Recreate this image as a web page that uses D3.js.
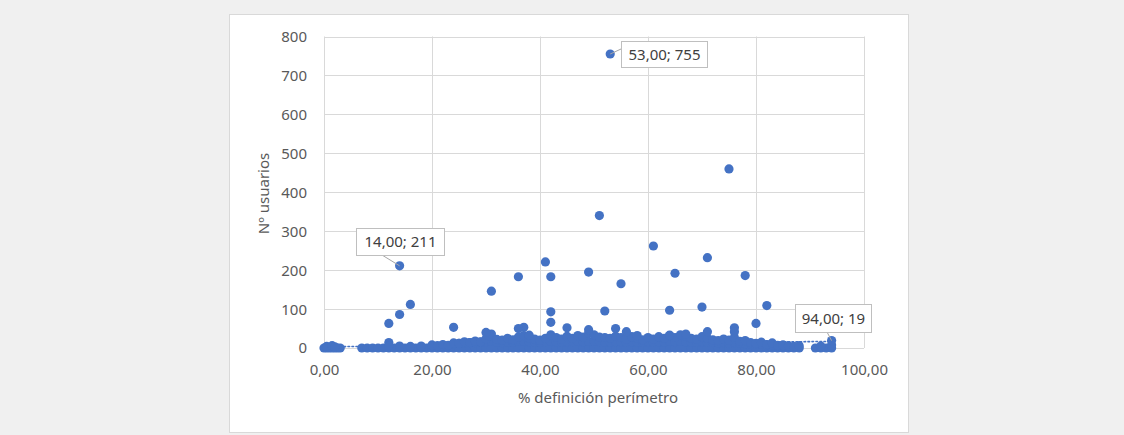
<!DOCTYPE html>
<html><head><meta charset="utf-8">
<script src="https://cdn.jsdelivr.net/npm/d3@7"></script>
<style>
html,body{margin:0;padding:0;background:#f0f0f0;}
svg{display:block;font-family:"Noto Sans",sans-serif;}
</style></head>
<body>
<svg id="c" width="1124" height="435"></svg>
<script>
// ---- data ----
const xTicks = [0, 20, 40, 60, 80, 100];
const yTicks = [0, 100, 200, 300, 400, 500, 600, 700, 800];
const xTitle = "% definición perímetro";
const yTitle = "Nº usuarios";

// isolated points
const outX = [53,75,51,61,71,41,14,49,65,36,42,78,55,31,16,82,70,52,64,42,14,12,42,80,24,45,37,36,54,49,76,76,30,56,71,67,58,64,38,94];
const outY = [755,460,340,262,232,221,211,195,192,183,183,186,165,146,112,109,105,95,97,93,86,63,66,63,53,52,53,50,50,47,52,42,40,42,42,36,32,33,33,19];

// dense band near zero
const baseX = [0,0.5,1,1.5,2,2.5,3,7,8,9,10,11,12,13,14,15,16,17,18,19,20,21,22,23,24,25,26,27,28,29,30,31,32,33,34,35,36,37,38,39,40,41,42,43,44,45,46,47,48,49,50,51,52,53,54,55,56,57,58,59,60,61,62,63,64,65,66,67,68,69,70,71,72,73,74,75,76,77,78,79,80,81,82,83,84,85,86,87,88,91,92,93,94];
const midX = [24,25,26,27,28,29,30,31,32,33,34,35,36,37,38,39,40,41,42,43,44,45,46,47,48,49,50,51,52,53,54,55,56,57,58,59,60,61,62,63,64,65,66,67,68,69,70,71,72,73,74,75,76,77,78,79,80,81,82,83,84];
const midY = [10,12,13,14,14,15,16,17,15,14,15,15,17,17,16,15,15,16,17,16,15,16,16,17,16,17,17,16,15,15,16,16,15,16,15,15,16,15,16,15,17,16,17,16,15,15,16,15,14,13,14,12,14,12,11,10,9,9,8,8,6];
const topX = [0.5,1.5,2,12,12,14,16,18,20,21,22,23,24,25,26,27,28,29,30,30.5,31,32,33,34,35,36,37,38,39,40,41,42,43,44,45,46,47,48,49,50,51,52,53,54,55,56,57,58,59,60,61,62,63,64,65,66,67,68,69,70,71,72,73,74,75,76,77,78,79,80,81,82,83,84,85,86,87,88,92,94];
const topY = [4,6,3,14,6,5,4,5,8,6,9,7,13,12,16,14,18,16,24,30,36,22,20,25,21,28,32,25,23,20,25,34,27,23,30,25,32,28,38,34,28,27,25,30,27,23,29,25,21,27,23,29,25,32,27,34,30,25,23,29,25,21,19,23,20,27,17,19,14,12,15,9,13,7,8,6,4,6,5,8];

// linear trendline end points
const trendX = [0, 94];
const trendY = [3, 17];

// data labels
const labelX = [53, 14, 94];
const labelY = [755, 211, 19];
const labelText = ["53,00; 755", "14,00; 211", "94,00; 19"];

// ---- drawing ----
const svg = d3.select("#c");
const plot = {left: 324, right: 864, top: 36.5, bottom: 348};
const x = d3.scaleLinear().domain([0, 100]).range([plot.left, plot.right]);
const y = d3.scaleLinear().domain([0, 800]).range([plot.bottom, plot.top]);
const blue = "#4472c4";
const txt = "#595959";

// chart area
svg.append("rect").attr("x", 229.5).attr("y", 14.5).attr("width", 679).attr("height", 418)
  .attr("fill", "#fff").attr("stroke", "#d9d9d9");

// gridlines
const g = svg.append("g");
g.selectAll("line.h").data(yTicks).join("line")
  .attr("x1", plot.left).attr("x2", plot.right)
  .attr("y1", d => Math.round(y(d)) + 0.5).attr("y2", d => Math.round(y(d)) + 0.5)
  .attr("stroke", "#d9d9d9").attr("stroke-width", 1);
g.selectAll("line.v").data(xTicks).join("line")
  .attr("y1", plot.top).attr("y2", plot.bottom)
  .attr("x1", d => Math.round(x(d)) + 0.5).attr("x2", d => Math.round(x(d)) + 0.5)
  .attr("stroke", "#d9d9d9").attr("stroke-width", 1);

// axes (tick labels only)
const xAxis = d3.axisBottom(x).tickValues(xTicks).tickSize(0).tickPadding(0)
  .tickFormat(d => d3.format(".2f")(d).replace(".", ","));
const xa = svg.append("g").attr("transform", `translate(0,${plot.bottom})`).call(xAxis);
xa.select(".domain").remove();
xa.selectAll("text").attr("font-size", 15).attr("fill", txt).attr("dy", null).attr("y", 27).attr("font-family", "Noto Sans");

const yAxis = d3.axisLeft(y).tickValues(yTicks).tickSize(0).tickPadding(0);
const ya = svg.append("g").attr("transform", `translate(${plot.left - 17},0)`).call(yAxis);
ya.select(".domain").remove();
ya.selectAll("text").attr("font-size", 15).attr("fill", txt).attr("dy", "0.33em").attr("font-family", "Noto Sans");

// titles
svg.append("text").attr("x", 598).attr("y", 403).attr("text-anchor", "middle")
  .attr("font-size", 15).attr("fill", txt).text(xTitle);
svg.append("text").attr("transform", "translate(269,193.5) rotate(-90)").attr("text-anchor", "middle")
  .attr("font-size", 15).attr("fill", txt).text(yTitle);

// trendline
svg.append("line")
  .attr("x1", x(trendX[0])).attr("y1", y(trendY[0]))
  .attr("x2", x(trendX[1])).attr("y2", y(trendY[1]))
  .attr("stroke", blue).attr("stroke-width", 1.6).attr("stroke-dasharray", "1.6,2.4")
  .attr("stroke-linecap", "round");

// points
const pts = [];
baseX.forEach(v => pts.push([v, 0]));
midX.forEach((v, i) => pts.push([v, midY[i]]));
topX.forEach((v, i) => pts.push([v, topY[i]]));
outX.forEach((v, i) => pts.push([v, outY[i]]));
svg.append("g").selectAll("circle").data(pts).join("circle")
  .attr("cx", d => x(d[0])).attr("cy", d => y(d[1])).attr("r", 4.6)
  .attr("fill", blue);

// data labels
const boxes = [
  {bx: 621, by: 41, w: 86, h: 26},
  {bx: 356, by: 228, w: 88, h: 27},
  {bx: 795, by: 304, w: 76, h: 28}
];
labelText.forEach((t, i) => {
  const b = boxes[i];
  const px = x(labelX[i]), py = y(labelY[i]);
  let lx, ly;
  if (i === 0) { lx = b.bx; ly = b.by + 8; }
  else if (i === 1) { lx = b.bx + 26; ly = b.by + b.h; }
  else { lx = b.bx + 32; ly = b.by + b.h; }
  svg.append("line").attr("x1", px).attr("y1", py).attr("x2", lx).attr("y2", ly)
    .attr("stroke", "#a6a6a6").attr("stroke-width", 1);
  svg.append("rect").attr("x", b.bx + 0.5).attr("y", b.by + 0.5).attr("width", b.w).attr("height", b.h)
    .attr("fill", "#fff").attr("stroke", "#bfbfbf");
  svg.append("text").attr("x", b.bx + b.w / 2 + 0.5).attr("y", b.by + b.h / 2 + 5.5)
    .attr("text-anchor", "middle").attr("font-size", 15).attr("fill", "#404040").text(t);
});
</script>
</body></html>
